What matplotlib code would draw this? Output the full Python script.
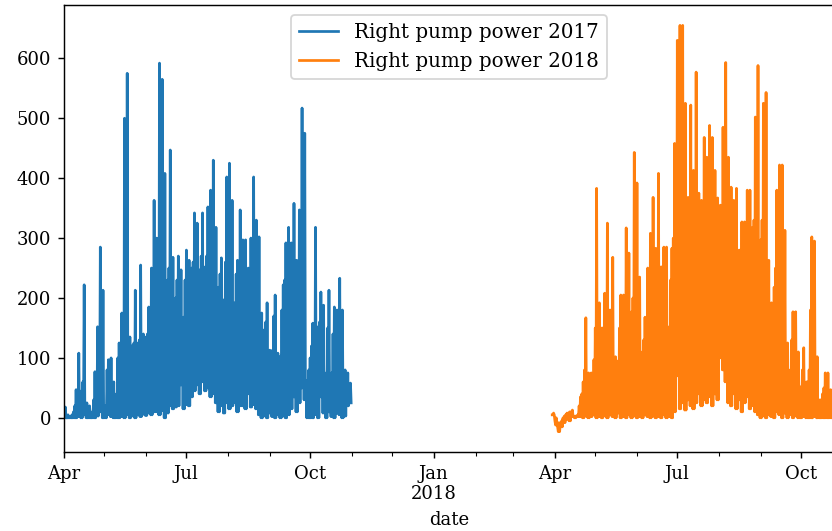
import numpy as np
import pandas as pd
import matplotlib
matplotlib.use('Agg')
import matplotlib.pyplot as plt
import matplotlib.dates as mdates

plt.rcParams['font.family'] = 'DejaVu Serif'

START_2017 = '2017-04-01'
START_2018 = '2018-03-30'

# readings per two-day slot: the low, the tallest spike and the top of the
# dense band on the other day
LOWS_2017 = [0, 0, 0, 0, 0, 2, 0, 5, 0, 0, 0, 0, 3, 10, 0, 0, 5, 2, 0,
             0, 0, 2, 0, 5, 0, 3, 0, 5, 2, 6, 4, 8, 5, 10,
             10, 5, 12, 0, 8, 20, 15,
             18, 20, 55, 15, 22, 20,
             35, 45, 55, 40, 60, 45, 50, 35, 40,
             25, 10, 20, 8, 25, 15, 20, 25, 10, 20,
             20, 15, 40, 18, 22, 15,
             5, 0, 3, 0, 8, 2, 0, 5, 0, 3, 0, 5,
             15, 35, 10, 25, 50, 30,
             0, 0, 0,
             5, 0, 35, 8, 0, 10, 2, 0, 8, 5, 0, 3, 20, 25]
PEAKS_2017 = [18, 5, 3, 10, 47, 108, 45, 222, 25, 20,
              10, 77, 152, 285, 213, 20, 97, 100, 60, 40,
              125, 175, 500, 575, 135, 120, 213, 125, 255, 140,
              135, 185, 250, 363, 300, 592, 565, 408, 230, 447,
              268, 200, 270, 247, 168, 280, 263, 250, 342, 325,
              247, 342, 252, 352, 380, 430, 318, 218, 267, 197,
              402, 425, 363, 192, 263, 347, 297, 297, 250, 300,
              402, 330, 302, 175, 147, 192, 113, 113, 205, 108,
              103, 222, 292, 318, 292, 358, 263, 347, 517, 475,
              63, 100, 158, 318, 152, 210, 188, 75, 213, 75,
              185, 180, 233, 180, 80, 75, 58]
BAND_2017 = [5, 0, 2, 5, 20, 40, 10, 60, 10, 5, 3, 30, 60, 100, 40, 5, 80, 90, 30,
             20, 100, 120, 130, 140, 110, 120, 125, 120, 130, 120, 120, 140, 150, 180,
             200, 250, 230, 220, 200, 250, 240, 180, 230, 220, 160, 230,
             240, 230, 260, 250, 230, 270, 240, 270, 260, 280, 250, 200, 240, 190, 260,
             270, 260, 180, 240, 250, 250, 240, 220, 240, 260, 250, 230,
             150, 130, 160, 100, 100, 170, 100, 95, 180, 230, 250, 240, 260, 230, 260,
             300, 280,
             50, 80, 120, 150, 130, 160, 140, 60, 150, 60, 140, 150, 160, 140, 70, 60, 50]

LOWS_2018 = [5, -12, -23, -15, -8, -2, -5, 2, 0, 2,
             2, 0, 3, 0, 2, 5, 0, 2, 0, 3, 0, 5, 2, 0, 8, 0, 2, 0,
             5, 0, 3, 0, 2, 0, 5, 2, 0, 3, 0, 2, 0, 5, 0, 2, 0, 10,
             70, 15, 25, 13, 30, 20, 15,
             25, 40, 20, 30, 25, 35, 20, 40, 30, 100, 80, 60, 25,
             20, 40, 15, 30, 10, 25, 35, 15, 20, 10,
             5, 0, 3, 0, 5, 2, 0,
             10, 5, 0, 8, 0, 5, 0, 3,
             0, 0, 2, 0, 0, 0, 2, 0, 0, 0, 0, 0, 0, 0]
PEAKS_2018 = [8, 0, -8, -5, 3, 8, 10, 13, 3, 5,
              35, 60, 167, 75, 75, 97, 383, 192, 150, 208,
              325, 180, 268, 102, 95, 205, 205, 317, 275, 177,
              443, 392, 235, 110, 168, 250, 308, 368, 283, 408,
              252, 285, 285, 152, 283, 458, 630, 655, 655, 525,
              368, 522, 413, 577, 375, 363, 468, 435, 488, 468,
              413, 367, 355, 485, 593, 435, 385, 363, 383, 280,
              327, 327, 380, 380, 318, 502, 588, 297, 525, 543,
              263, 192, 218, 380, 422, 422, 313, 125, 80, 177,
              177, 110, 52, 117, 60, 80, 302, 295, 102, 30,
              40, 75, 75, 47, 20]
BAND_2018 = [5, -5, -15, -10, 0, 5, 8, 10, 2, 3,
             20, 40, 80, 50, 60, 70, 150, 140, 120, 150,
             170, 140, 160, 80, 70, 150, 160, 180, 170, 130,
             200, 220, 160, 80, 130, 160, 200, 230, 200, 250,
             200, 220, 230, 120, 230, 300, 350, 380, 360, 340,
             300, 350, 330, 360, 300, 320, 350, 330, 360, 350,
             330, 300, 310, 340, 360, 330, 300, 310, 300, 240,
             280, 270, 300, 300, 270, 330, 350, 250, 330, 320,
             200, 150, 170, 250, 300, 280, 220, 100, 60, 130,
             120, 80, 40, 80, 45, 60, 180, 160, 70, 20,
             30, 50, 55, 35, 10]

TICK_DATES = ['2017-04-01', '2017-07-01', '2017-10-01', '2018-01-01',
              '2018-04-01', '2018-07-01', '2018-10-01']
TICK_LABELS = ['Apr', 'Jul', 'Oct', 'Jan\n2018', 'Apr', 'Jul', 'Oct']
Y_TICKS = [0, 100, 200, 300, 400, 500, 600]


def make_series(start, lows, peaks, band):
    # 12-hourly points: band top, low, spike, low
    values = []
    for lo, hi, mid in zip(lows, peaks, band):
        values += [mid, lo, hi, lo]
    idx = pd.date_range(start, periods=len(values), freq='12h')
    return pd.Series(values, index=idx)


s2017 = make_series(START_2017, LOWS_2017, PEAKS_2017, BAND_2017)
s2018 = make_series(START_2018, LOWS_2018, PEAKS_2018, BAND_2018)

fig = plt.figure(figsize=(6.4, 531 / 130), dpi=130)
ax = fig.add_axes([64 / 832, 79 / 531, 770 / 832, 447 / 531])

ax.plot(s2017.index, s2017.values, color='#1f77b4', lw=1.5, label='Right pump power 2017')
ax.plot(s2018.index, s2018.values, color='#ff7f0e', lw=1.5, label='Right pump power 2018')

ax.set_xlim(pd.Timestamp('2017-04-01'), pd.Timestamp('2018-10-25 12:00'))
ax.set_ylim(-57, 689)
ax.set_yticks(Y_TICKS)
ax.set_xticks(pd.to_datetime(TICK_DATES))
ax.set_xticklabels(TICK_LABELS)
ax.xaxis.set_minor_locator(mdates.MonthLocator())
ax.set_xlabel('date')
ax.legend(loc='upper center', fontsize=11)

fig.savefig('out.png', dpi=130)
